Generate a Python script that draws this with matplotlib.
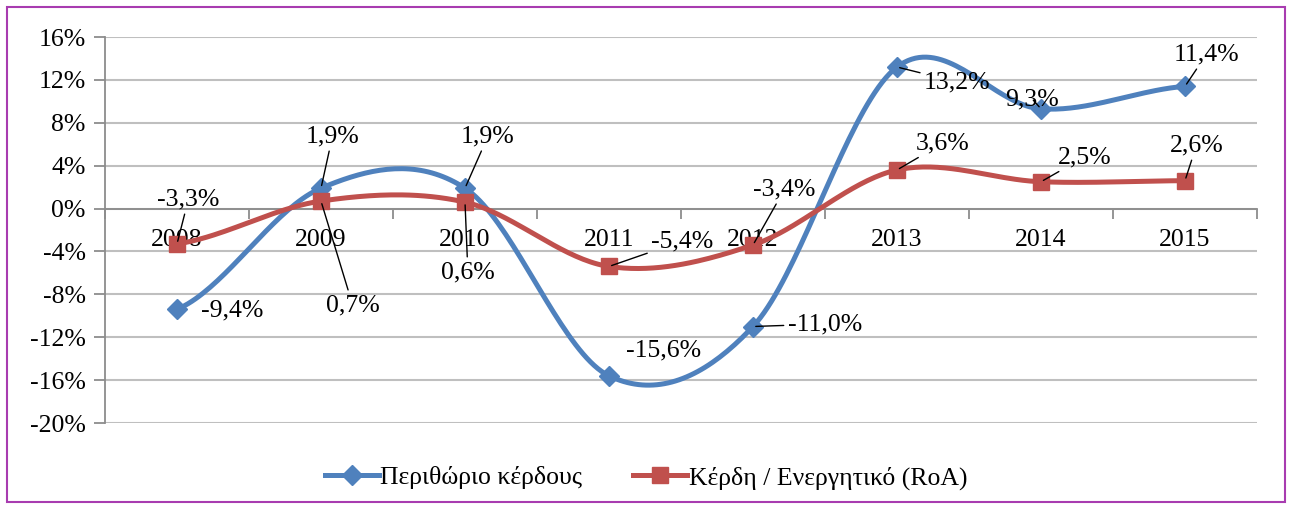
import numpy as np
import matplotlib.pyplot as plt
from matplotlib.patches import Rectangle
from matplotlib.lines import Line2D

plt.rcParams['font.family'] = ['Liberation Serif', 'DejaVu Serif']

years = ['2008', '2009', '2010', '2011', '2012', '2013', '2014', '2015']
margin = [-9.4, 1.9, 1.9, -15.6, -11.0, 13.2, 9.3, 11.4]
roa = [-3.3, 0.7, 0.6, -5.4, -3.4, 3.6, 2.5, 2.6]
margin_lbl = ['-9,4%', '1,9%', '1,9%', '-15,6%', '-11,0%', '13,2%', '9,3%', '11,4%']
roa_lbl = ['-3,3%', '0,7%', '0,6%', '-5,4%', '-3,4%', '3,6%', '2,5%', '2,6%']

# label positions (x, y in %)
margin_pos = [(0.88, -9.46), (1.58, 6.77), (2.66, 6.77), (3.88, -13.2),
              (5.0, -10.77), (5.92, 11.8), (6.44, 10.2), (7.65, 14.4)]
roa_pos = [(0.58, 0.89), (1.72, -9.0), (2.52, -5.92), (4.01, -3.03),
           (4.72, 1.82), (5.82, 6.11), (6.80, 4.8), (7.58, 5.92)]
no_line = {'-9,4%', '-15,6%'}

blue = '#4F81BD'
red = '#C0504D'
fs = 18.5


def smooth(y, n=40):
    # catmull-rom like excel's smoothed line
    y = np.asarray(y, float)
    p = np.concatenate([[y[0]], y, [y[-1]]])
    xs, ys = [], []
    for i in range(len(y) - 1):
        p0, p1, p2, p3 = p[i], p[i + 1], p[i + 2], p[i + 3]
        t = np.linspace(0, 1, n)
        yy = 0.5 * ((2 * p1) + (-p0 + p2) * t + (2 * p0 - 5 * p1 + 4 * p2 - p3) * t ** 2
                    + (-p0 + 3 * p1 - 3 * p2 + p3) * t ** 3)
        xs.append(i + 0.5 + t)
        ys.append(yy)
    return np.concatenate(xs), np.concatenate(ys)


fig = plt.figure(figsize=(12.92, 5.09), dpi=100)
ax = fig.add_axes([105 / 1292, 1 - 423 / 509, (1257 - 105) / 1292, (423 - 37) / 509])

x = np.arange(len(years)) + 0.5
for vals, col, mk, ms in [(margin, blue, 'D', 10), (roa, red, 's', 12)]:
    sx, sy = smooth(vals)
    ax.plot(sx, sy, color=col, lw=3.6, zorder=3, solid_capstyle='round')
    ax.plot(x, vals, ls='none', marker=mk, ms=ms, color=col, zorder=4)

for vals, lbls, pos in [(margin, margin_lbl, margin_pos), (roa, roa_lbl, roa_pos)]:
    for i, (v, l, (tx, ty)) in enumerate(zip(vals, lbls, pos)):
        if l in no_line:
            ax.text(tx, ty, l, fontsize=fs, ha='center', va='center', zorder=5)
        else:
            ax.annotate(l, xy=(x[i], v), xytext=(tx, ty), fontsize=fs,
                        ha='center', va='center', zorder=5,
                        arrowprops=dict(arrowstyle='-', color='black', lw=1,
                                        shrinkA=1, shrinkB=2))

ax.set_xlim(0, 8)
ax.set_ylim(-20, 16)
ax.set_yticks(np.arange(-20, 17, 4))
ax.set_yticklabels([f'{v}%' for v in range(-20, 17, 4)])
ax.yaxis.grid(True, color='#BFBFBF', lw=1.5)
ax.set_axisbelow(True)

ax.set_xticks(np.arange(0, 9))
ax.set_xticklabels([])
ax.set_xticks(x, minor=True)
ax.set_xticklabels(years, minor=True)
ax.tick_params(axis='x', which='major', direction='out', length=7, color='#8C8C8C', width=1.3)
ax.tick_params(axis='x', which='minor', length=0, pad=15, labelsize=fs)
ax.tick_params(axis='y', direction='out', length=8, color='#8C8C8C', width=1.3, pad=6,
               labelsize=fs)

ax.spines['bottom'].set_position(('data', 0))
ax.spines['bottom'].set_color('#8C8C8C')
ax.spines['bottom'].set_linewidth(1.3)
ax.spines['left'].set_color('#8C8C8C')
ax.spines['left'].set_linewidth(1.3)
ax.spines['top'].set_visible(False)
ax.spines['right'].set_visible(False)

handles = [Line2D([], [], color=blue, lw=3.6, marker='D', ms=10),
           Line2D([], [], color=red, lw=3.6, marker='s', ms=12)]
fig.legend(handles, ['Περιθώριο κέρδους', 'Κέρδη / Ενεργητικό (RoA)'],
           loc='center', bbox_to_anchor=(0.5, 1 - 478 / 509), ncol=2, frameon=False,
           fontsize=fs, handlelength=2.1, handletextpad=0.05, columnspacing=2.0)

fig.patches.append(Rectangle((7 / 1292, 1 - 502 / 509), (1285 - 7) / 1292, (502 - 7) / 509,
                             transform=fig.transFigure, fill=False,
                             edgecolor='#A83CB0', lw=1.5))

fig.savefig('out.png', dpi=100)
